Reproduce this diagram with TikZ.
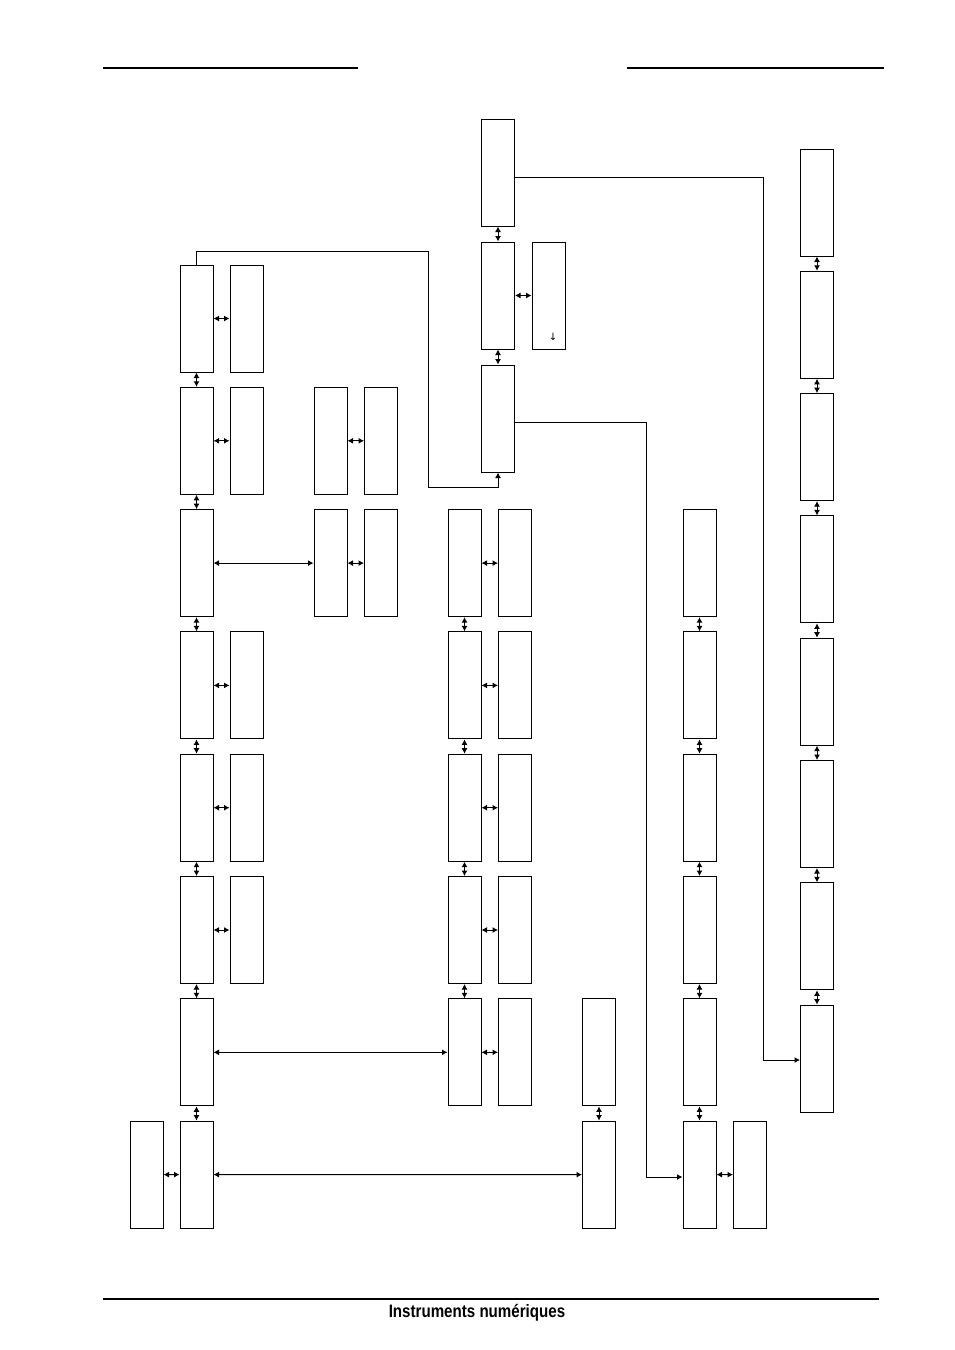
\documentclass[tikz,border=0pt]{standalone}
\usepackage{fontspec}
\setmainfont{Liberation Sans}
\newfontfamily\symfont{DejaVu Sans}
\usetikzlibrary{arrows.meta}
\tikzset{
  card/.style={draw, line width=1pt, minimum width=33pt, minimum height=107pt, inner sep=0pt},
  dlink/.style={{Latex[length=5.5pt,width=6pt]}-{Latex[length=5.5pt,width=6pt]}, line width=1pt},
  slink/.style={-{Latex[length=5.5pt,width=6pt]}, line width=1pt},
  rule/.style={line width=1.2pt}
}
\begin{document}
\begin{tikzpicture}[x=1pt, y=-1pt]
  \useasboundingbox (0,0) rectangle (954,1350);
  % header and footer
  \draw[rule] (103,68) -- (358,68);
  \draw[rule] (627,68) -- (884,68);
  \draw[rule] (103,1299) -- (879,1299);
  \node[font=\bfseries\fontsize{18}{18}\selectfont, xscale=0.84] (foot) at (477,1313) {Instruments numériques};

  % left column and its side boxes
  \foreach \r in {1,...,8}
    \node[card] (a\r) at (196.5, {318.5+122.3*(\r-1)}) {};
  \foreach \r in {1,2,4,5,6}{
    \node[card] (as\r) at (246.5, {318.5+122.3*(\r-1)}) {};
    \draw[dlink] (a\r) -- (as\r);
  }
  \foreach \r [evaluate=\r as \s using int(\r+1)] in {1,...,7}
    \draw[dlink] (a\r) -- (a\s);
  \node[card] (a0) at (146.5, 1174.6) {};
  \draw[dlink] (a0) -- (a8);

  % second column
  \foreach \r in {2,3}{
    \node[card] (b\r) at (330.5, {318.5+122.3*(\r-1)}) {};
    \node[card] (bs\r) at (381, {318.5+122.3*(\r-1)}) {};
    \draw[dlink] (b\r) -- (bs\r);
  }
  \draw[dlink] (a3) -- (b3);

  % middle column
  \foreach \r in {3,...,7}{
    \node[card] (c\r) at (464.5, {318.5+122.3*(\r-1)}) {};
    \node[card] (cs\r) at (515, {318.5+122.3*(\r-1)}) {};
    \draw[dlink] (c\r) -- (cs\r);
  }
  \foreach \r [evaluate=\r as \s using int(\r+1)] in {3,...,6}
    \draw[dlink] (c\r) -- (c\s);
  \draw[dlink] (a7) -- (c7);

  % top column
  \foreach \r in {1,2,3}
    \node[card] (d\r) at (498, {172.5+123*(\r-1)}) {};
  \node[card] (ds2) at (548.5, 295.5) {};
  \node[font=\symfont\fontsize{10}{10}\selectfont] (ret) at (553,337) {↓};
  \draw[dlink] (d1) -- (d2);
  \draw[dlink] (d2) -- (d3);
  \draw[dlink] (d2) -- (ds2);
  \draw[slink] (a1.north) |- (428,251) -- (428,487) -| (d3.south);

  % column E
  \node[card] (e7) at (599, 1052.4) {};
  \node[card] (e8) at (599, 1174.6) {};
  \draw[dlink] (e7) -- (e8);
  \draw[dlink] (a8) -- (e8);

  % column F
  \foreach \r in {3,...,8}
    \node[card] (f\r) at (699.5, {318.5+122.3*(\r-1)}) {};
  \foreach \r [evaluate=\r as \s using int(\r+1)] in {3,...,7}
    \draw[dlink] (f\r) -- (f\s);
  \node[card] (fs8) at (750, 1174.6) {};
  \draw[dlink] (f8) -- (fs8);
  \draw[slink] ([yshift=-4pt]d3.east) -| (646,1177) -- (f8.west |- 0,1177);

  % right column
  \foreach \r in {1,...,8}
    \node[card] (g\r) at (817, {202.5+122.3*(\r-1)}) {};
  \foreach \r [evaluate=\r as \s using int(\r+1)] in {1,...,7}
    \draw[dlink] (g\r) -- (g\s);
  \draw[slink] ([yshift=-5pt]d1.east) -| (763,1060) -- (g8.west |- 0,1060);
\end{tikzpicture}
\end{document}
